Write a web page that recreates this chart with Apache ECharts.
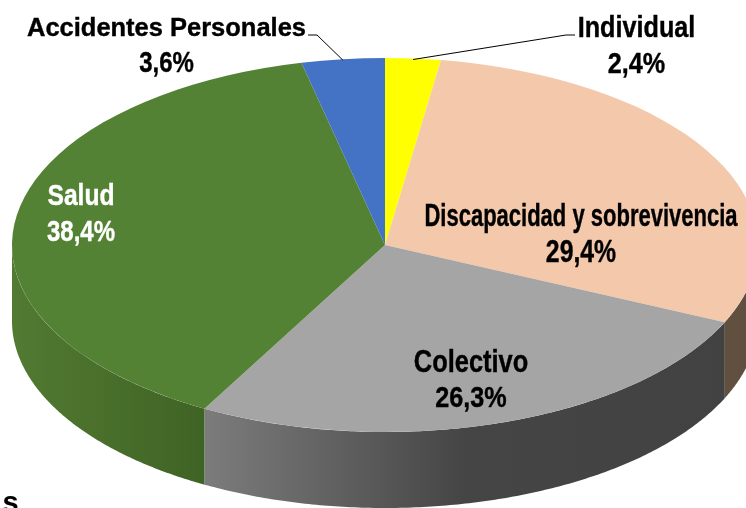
<!DOCTYPE html>
<html><head><meta charset="utf-8">
<style>html,body{margin:0;padding:0;background:#fff;overflow:hidden}#c{width:746px;height:508px}</style>
<script src="https://cdn.jsdelivr.net/npm/echarts@6/dist/echarts.min.js"></script>
</head><body><div id="c"></div>
<script>
const categories = ['Individual','Discapacidad y sobrevivencia','Colectivo','Salud','Accidentes Personales'];
const values = [2.4,29.4,26.3,38.4,3.6];
const valueLabels = ['2,4%','29,4%','26,3%','38,4%','3,6%'];

const colors = ['#FFFF00','#F4C8AB','#A5A5A5','#548235','#4472C4'];
const sideStops = [
  [[0,'#666600'],[1,'#666600']],
  [[0,'#62503F'],[1,'#5E4C40']],
  [[0,'#7C7C7C'],[0.33,'#585858'],[0.5,'#454545'],[1,'#424242']],
  [[0,'#527A32'],[1,'#3F6324']],
  [[0,'#2B4A80'],[1,'#2B4A80']]
];
// text layout: centre x, then [size, x-scale, baseline y] of the name and of the share
const labelLayout = [
  {x:636.5,name:[30,0.84,39],share:[30,0.84,75],color:'#000',elbow:[[575,35],[566,35]]},
  {x:581,name:[31,0.71,228],share:[31,0.80,264],color:'#000'},
  {x:471,name:[31,0.82,374],share:[30,0.84,409],color:'#000'},
  {x:81,name:[29,0.85,207],share:[30,0.80,243],color:'#fff'},
  {x:166.5,name:[26,0.98,38],share:[30,0.80,74],color:'#000',elbow:[[308,35],[317,35]]}
];
const CX=385, CY=245, RX=373, RY=187, DEPTH=76;
const total = values.reduce((a,b)=>a+b,0);
const cum = values.reduce((a,v)=>{a.push(a[a.length-1]+v);return a;},[0]);
// angle measured clockwise from 12 o'clock
const ang = v => v/total*Math.PI*2;
const pt = (a,dy=0)=>[CX+RX*Math.sin(a), CY-RY*Math.cos(a)+dy];

function sideItem(params, api){
  const i = params.dataIndex;
  let a0=ang(cum[i]), a1=ang(cum[i+1]);
  // only the front half of the rim is visible
  a0=Math.max(a0,Math.PI/2); a1=Math.min(a1,Math.PI*1.5);
  if(a1<=a0) return null;
  const top=[],bot=[];
  for(let k=0;k<=160;k++){
    const a=a0+(a1-a0)*k/160;
    top.push(pt(a)); bot.push(pt(a,DEPTH));
  }
  const xs=top.map(p=>p[0]);
  const x0=Math.min(...xs), x1=Math.max(...xs);
  const stops=sideStops[i].map(s=>({offset:s[0],color:s[1]}));
  return {type:'polygon',
    shape:{points:top.concat(bot.reverse())},
    style:{fill:new echarts.graphic.LinearGradient(x0,0,x1,0,stops,true)}};
}
function topItem(params, api){
  const i=params.dataIndex;
  const s=ang(cum[i])-Math.PI/2, e=ang(cum[i+1])-Math.PI/2;
  return {type:'sector',
    shape:{cx:0,cy:0,r:RX,r0:0,startAngle:s,endAngle:e,clockwise:true},
    x:CX,y:CY,scaleY:RY/RX,
    style:{fill:colors[i]}};
}
function line(text,spec,x,color){
  return {type:'text',x:x,y:spec[2]-0.35*spec[0],scaleX:spec[1],
    style:{text:text,fill:color,stroke:color,lineWidth:0.4,
      font:'bold '+spec[0]+'px "Liberation Sans", sans-serif',
      align:'center',verticalAlign:'middle'}};
}
function labelItem(params, api){
  const i=params.dataIndex, L=labelLayout[i];
  const children=[line(categories[i],L.name,L.x,L.color),line(valueLabels[i],L.share,L.x,L.color)];
  if(L.elbow){
    const mid=ang((cum[i]+cum[i+1])/2);
    children.push({type:'polyline',
      shape:{points:L.elbow.concat([pt(mid,1)])},
      style:{stroke:'#000',lineWidth:1,fill:null}});
  }
  return {type:'group',children};
}
const chart=echarts.init(document.getElementById('c'),null,{renderer:'canvas'});
chart.setOption({
  animation:false,
  series:[
    {type:'custom',coordinateSystem:'none',z:1,data:values,renderItem:sideItem,silent:true},
    {type:'custom',coordinateSystem:'none',z:2,data:values,renderItem:topItem,silent:true},
    {type:'custom',coordinateSystem:'none',z:3,data:values,renderItem:labelItem,silent:true}
  ],
  graphic:[{type:'text',x:2.5,y:489,z:5,style:{text:'s',fill:'#000',font:'bold 29px "Liberation Sans"'}}]
});
</script></body></html>
